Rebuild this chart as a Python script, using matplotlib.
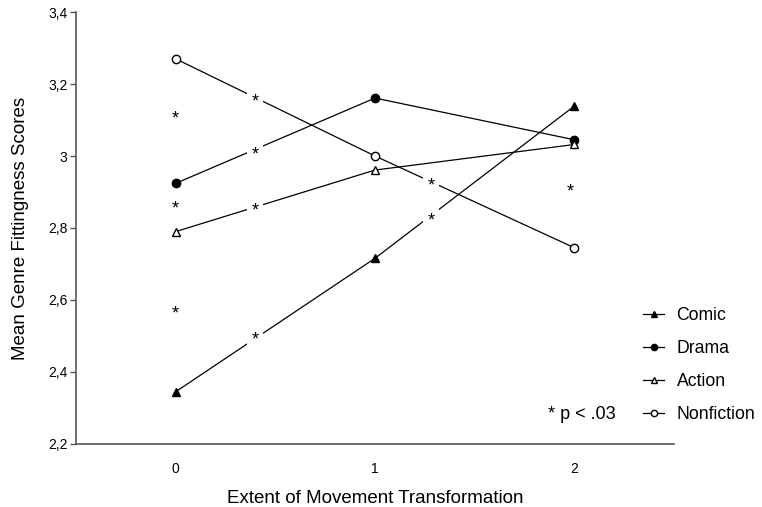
import matplotlib
matplotlib.use("Agg")
import matplotlib.pyplot as plt

plt.rcParams['font.family'] = ['Liberation Sans', 'DejaVu Sans']

# extent of movement transformation levels
levels = [0, 1, 2]

# mean genre fittingness per genre
comic = [2.345, 2.716, 3.139]
drama = [2.924, 3.161, 3.045]
action = [2.79, 2.961, 3.032]
nonfiction = [3.27, 3.0, 2.745]

# significance markers (x, y)
star_x = [0, 0, 0, 0.4, 0.4, 0.4, 0.4, 1.28, 1.28, 1.98]
star_y = [3.108, 2.858, 2.567, 3.156, 3.008, 2.853, 2.494, 2.922, 2.825, 2.906]

yticks = [2.2, 2.4, 2.6, 2.8, 3.0, 3.2, 3.4]
ytick_labels = ['2,2', '2,4', '2,6', '2,8', '3', '3,2', '3,4']

fig = plt.figure(figsize=(7.62, 5.07), dpi=100)
ax = fig.add_axes([0.0997, 0.1243, 0.785, 0.852])

lw = 0.9
ax.plot(levels, comic, color='black', lw=lw, marker='^', ms=6,
        mfc='black', mec='black', label='Comic')
ax.plot(levels, drama, color='black', lw=lw, marker='o', ms=6,
        mfc='black', mec='black', label='Drama')
ax.plot(levels, action, color='black', lw=lw, marker='^', ms=6,
        mfc='white', mec='black', label='Action')
ax.plot(levels, nonfiction, color='black', lw=lw, marker='o', ms=6,
        mfc='white', mec='black', label='Nonfiction')

# asterisks sit on a white box so they break the lines they cross
for x, y in zip(star_x, star_y):
    ax.annotate('*', (x, y), xytext=(0, -1.5), textcoords='offset points',
                ha='center', va='center', fontsize=13, zorder=4,
                bbox=dict(boxstyle='square,pad=0.25', fc='white', ec='none'))

ax.set_xlim(-0.5, 2.5)
ax.set_ylim(2.2, 3.4)
ax.set_xticks(levels)
ax.set_yticks(yticks)
ax.set_yticklabels(ytick_labels)
ax.tick_params(axis='x', length=0, labelsize=10, pad=13)
ax.tick_params(axis='y', length=4, width=1, color='#555555', labelsize=10, pad=2)

for side in ['top', 'right']:
    ax.spines[side].set_visible(False)
for side in ['left', 'bottom']:
    ax.spines[side].set_color('#555555')
    ax.spines[side].set_linewidth(1.2)

ax.set_xlabel('Extent of Movement Transformation', fontsize=13.5, labelpad=10)
ax.set_ylabel('Mean Genre Fittingness Scores', fontsize=13.5, labelpad=14)

leg = ax.legend(loc='upper left', bbox_to_anchor=(0.823, 0.425),
                bbox_transform=fig.transFigure, frameon=False, fontsize=12.7,
                handlelength=1.2, handletextpad=0.7, labelspacing=0.9,
                markerscale=0.75)

fig.text(0.719, 0.183, '* p < .03', fontsize=13, ha='left', va='center')

fig.savefig('out.png', dpi=100)
